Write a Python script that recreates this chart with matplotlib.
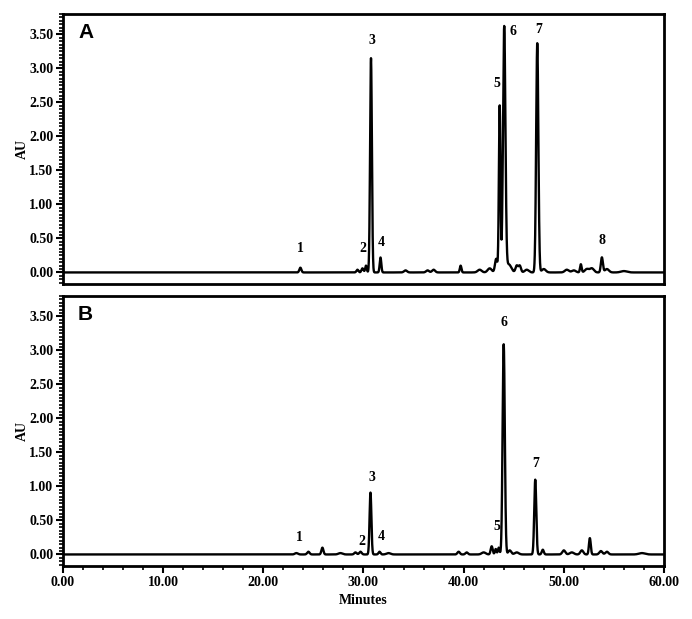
import matplotlib.pyplot as plt
import numpy as np
from matplotlib.ticker import MultipleLocator

# peak tables: retention time (min), height (AU), width (min)
a_time = [23.7, 29.4, 29.9, 30.25, 30.75, 31.7, 34.2, 36.4, 37.0, 39.7, 41.6, 42.6,
          43.25, 43.6, 44.05, 44.5, 45.3, 45.6, 46.3, 47.35, 48.0, 50.3, 51.0, 51.7,
          52.3, 52.8, 53.8, 54.3, 56.0]
a_height = [0.07, 0.04, 0.06, 0.10, 3.15, 0.22, 0.03, 0.03, 0.04, 0.10, 0.04, 0.06,
            0.20, 2.45, 3.60, 0.12, 0.10, 0.10, 0.04, 3.37, 0.05, 0.04, 0.03, 0.12,
            0.05, 0.06, 0.22, 0.05, 0.02]
a_width = [0.10, 0.10, 0.10, 0.08, 0.09, 0.08, 0.15, 0.15, 0.15, 0.08, 0.2, 0.2,
           0.12, 0.08, 0.12, 0.25, 0.12, 0.12, 0.2, 0.11, 0.2, 0.2, 0.2, 0.08,
           0.2, 0.2, 0.10, 0.2, 0.3]

b_time = [23.3, 24.5, 25.9, 27.7, 29.2, 29.7, 30.7, 31.6, 32.5, 39.5, 40.3, 42.0,
          42.8, 43.2, 43.5, 44.0, 44.6, 45.3, 47.15, 47.9, 50.0, 50.8, 51.8, 52.6,
          53.7, 54.3, 57.8]
b_height = [0.02, 0.04, 0.10, 0.02, 0.03, 0.04, 0.91, 0.04, 0.02, 0.04, 0.03, 0.03,
            0.12, 0.08, 0.10, 3.09, 0.06, 0.03, 1.10, 0.07, 0.06, 0.03, 0.06, 0.24,
            0.05, 0.04, 0.02]
b_width = [0.15, 0.12, 0.10, 0.2, 0.12, 0.12, 0.09, 0.10, 0.2, 0.12, 0.12, 0.2,
           0.10, 0.08, 0.08, 0.11, 0.15, 0.2, 0.10, 0.10, 0.15, 0.2, 0.15, 0.09,
           0.15, 0.15, 0.3]

# peak number labels (time, AU)
a_lab = ['1', '2', '3', '4', '5', '6', '7', '8']
a_lab_x = [23.7, 29.9, 30.8, 31.8, 43.3, 44.9, 47.5, 53.8]
a_lab_y = [0.35, 0.35, 3.41, 0.44, 2.78, 3.54, 3.57, 0.47]
b_lab = ['1', '2', '3', '4', '5', '6', '7']
b_lab_x = [23.6, 29.8, 30.8, 31.8, 43.3, 44.0, 47.2]
b_lab_y = [0.25, 0.19, 1.13, 0.26, 0.41, 3.41, 1.34]

t = np.arange(0, 60.01, 0.01)


def trace(times, heights, widths):
    y = np.zeros_like(t)
    for c, h, w in zip(times, heights, widths):
        y += h * np.exp(-0.5 * ((t - c) / w) ** 2)
    return y


serif = 'Liberation Serif'
fig = plt.figure(figsize=(6.92, 6.19), dpi=100)
axA = fig.add_axes([0.091, 0.5412, 0.8685, 0.4362])
axB = fig.add_axes([0.091, 0.0856, 0.8685, 0.4362])

panels = [(axA, 'A', a_time, a_height, a_width, a_lab, a_lab_x, a_lab_y),
          (axB, 'B', b_time, b_height, b_width, b_lab, b_lab_x, b_lab_y)]

for ax, name, tt, hh, ww, lab, lx, ly in panels:
    ax.plot(t, trace(tt, hh, ww), color='black', lw=1.7)
    ax.set_xlim(0, 60)
    ax.set_ylim(-0.17, 3.8)
    ax.yaxis.set_minor_locator(MultipleLocator(0.05))
    ax.xaxis.set_major_locator(MultipleLocator(10))
    ax.xaxis.set_minor_locator(MultipleLocator(2))
    ax.set_yticks(np.arange(0, 3.51, 0.5))
    ax.set_yticklabels(['%.2f' % v for v in np.arange(0, 3.51, 0.5)],
                       fontfamily=serif, fontweight='bold', fontsize=10)
    ax.tick_params(axis='both', which='major', length=5, width=1.5, direction='out', pad=2)
    ax.tick_params(axis='both', which='minor', length=3, width=1.2, direction='out')
    for sp in ax.spines.values():
        sp.set_linewidth(2)
    ax.set_ylabel('AU', fontfamily=serif, fontweight='bold', fontsize=10, labelpad=0)
    ax.text(0.025, 0.93, name, transform=ax.transAxes, fontfamily='Liberation Sans',
            fontweight='bold', fontsize=15, va='center', ha='left')
    for s, x, y in zip(lab, lx, ly):
        ax.text(x, y, s, fontfamily=serif, fontweight='bold', fontsize=10,
                ha='center', va='center')

axA.tick_params(axis='x', which='both', bottom=False, labelbottom=False)
axB.set_xticklabels(['%.2f' % v for v in axB.get_xticks()],
                    fontfamily=serif, fontweight='bold', fontsize=10)
axB.set_xlabel('Minutes', fontfamily=serif, fontweight='bold', fontsize=10)

fig.savefig('out.png', dpi=100)
